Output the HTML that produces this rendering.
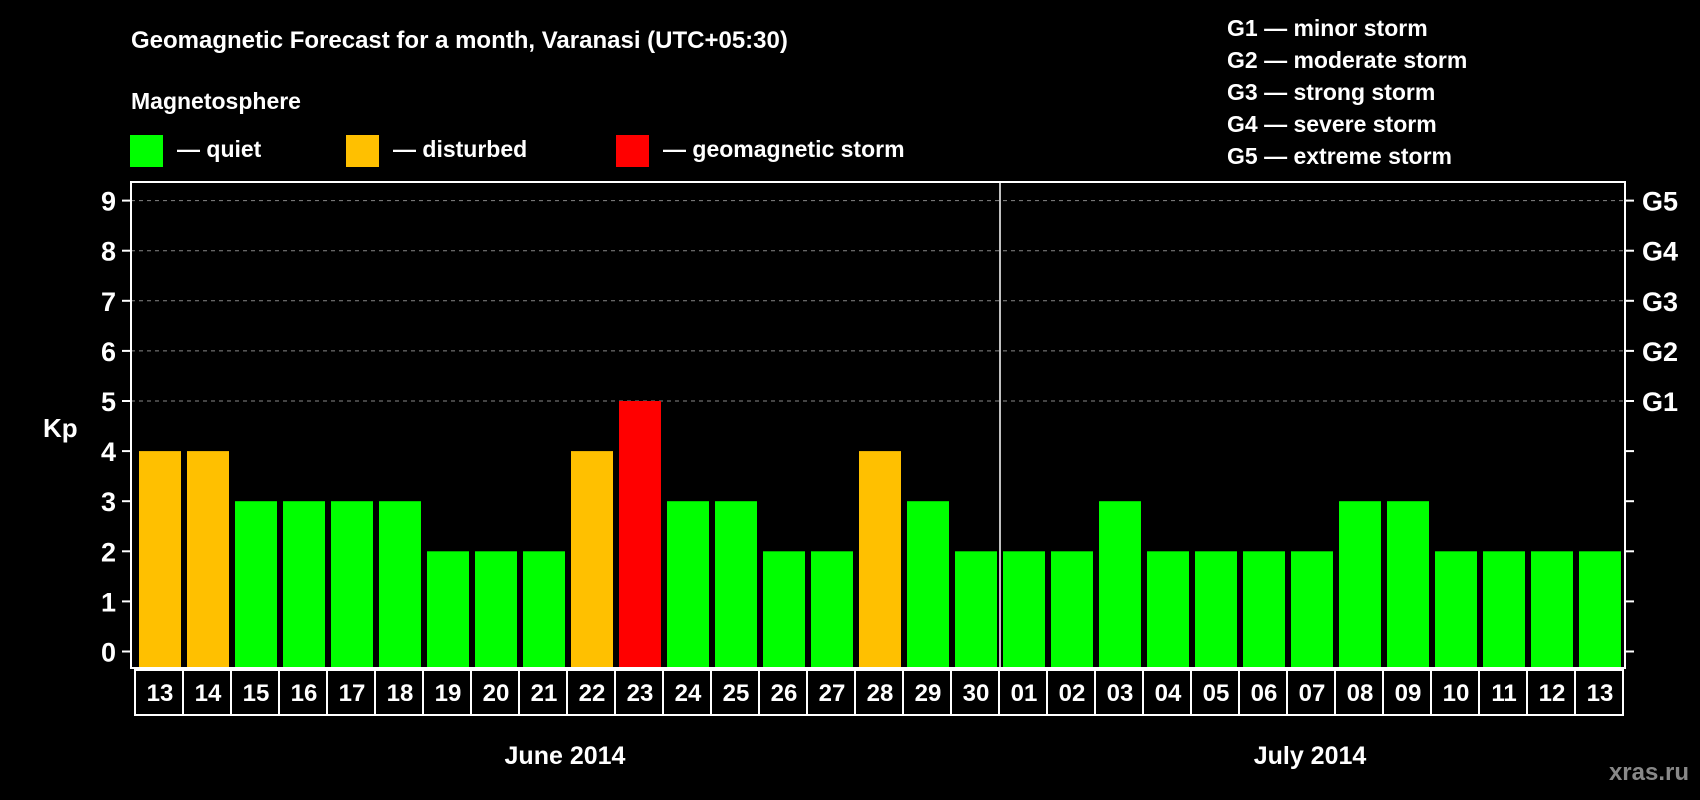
<!DOCTYPE html>
<html><head><meta charset="utf-8"><style>
body{margin:0;background:#000;width:1700px;height:800px;overflow:hidden}
svg{display:block;font-family:"Liberation Sans",Arial,sans-serif;font-weight:bold}
</style></head><body>
<svg id="c" width="1700" height="800" xmlns="http://www.w3.org/2000/svg">
<rect width="1700" height="800" fill="#000"/>
<text x="131" y="48" fill="#fff" font-size="24">Geomagnetic Forecast for a month, Varanasi (UTC+05:30)</text>
<text x="131" y="109" fill="#fff" font-size="23">Magnetosphere</text>
<g><rect x="130" y="135" width="33" height="32" fill="#00ff00"/><text x="177" y="157" fill="#fff" font-size="23">— quiet</text></g>
<g><rect x="346" y="135" width="33" height="32" fill="#ffc000"/><text x="393" y="157" fill="#fff" font-size="23">— disturbed</text></g>
<g><rect x="616" y="135" width="33" height="32" fill="#ff0000"/><text x="663" y="157" fill="#fff" font-size="23">— geomagnetic storm</text></g>
<g fill="#fff" font-size="23">
<text x="1227" y="36">G1 — minor storm</text>
<text x="1227" y="68">G2 — moderate storm</text>
<text x="1227" y="100">G3 — strong storm</text>
<text x="1227" y="132">G4 — severe storm</text>
<text x="1227" y="164">G5 — extreme storm</text>
</g>
<text x="43" y="437" fill="#fff" font-size="26">Kp</text>
<g id="grid"></g><g id="bars"></g><g id="axes"></g>
<text x="565" y="764" fill="#fff" font-size="25" text-anchor="middle">June 2014</text>
<text x="1310" y="764" fill="#fff" font-size="25" text-anchor="middle">July 2014</text>
<text x="1689" y="780" fill="#888" font-size="24" text-anchor="end">xras.ru</text>
</svg>
<script>
const days=["13","14","15","16","17","18","19","20","21","22","23","24","25","26","27","28","29","30","01","02","03","04","05","06","07","08","09","10","11","12","13"];
const kp=[4,4,3,3,3,3,2,2,2,4,5,3,3,2,2,4,3,2,2,2,3,2,2,2,2,3,3,2,2,2,2];
const yTicks=[0,1,2,3,4,5,6,7,8,9];
const gLabels=["","","","","","G1","G2","G3","G4","G5"];
const NS="http://www.w3.org/2000/svg";
const L=131,R=1625,T=182,B=668,X0=139,STEP=48,BW=42;
const y=v=>651.5-v*50.1;
const x=i=>X0+i*STEP;
function mk(tag,attrs,parent,txt){const e=document.createElementNS(NS,tag);for(const k in attrs)e.setAttribute(k,attrs[k]);if(txt!==undefined)e.textContent=txt;parent.appendChild(e);return e;}
const grid=document.getElementById('grid'),bars=document.getElementById('bars'),axes=document.getElementById('axes');
yTicks.forEach((v,i)=>{
  if(v>=5){const g=mk('line',{x1:L,x2:R,y1:y(v),y2:y(v),stroke:'#888','stroke-width':1,'stroke-dasharray':'4,4'},grid);
  
  }
  const t1=mk('line',{x1:122,x2:L,y1:y(v),y2:y(v),stroke:'#fff','stroke-width':2},axes);
  
  
  const t2=mk('line',{x1:R,x2:1634,y1:y(v),y2:y(v),stroke:'#fff','stroke-width':2},axes);
  
  
  const lb=mk('text',{x:116,y:y(v)+10,fill:'#fff','font-size':27,'text-anchor':'end'},axes,String(v));
  
  
  if(gLabels[i]){const gl=mk('text',{x:1642,y:y(v)+10,fill:'#fff','font-size':27},axes,gLabels[i]);
  
  }
});
kp.forEach((v,i)=>{
  const col=v>=5?'#ff0000':(v>=4?'#ffc000':'#00ff00');
  const b=mk('rect',{x:x(i),y:y(v),width:BW,height:y(-0.35)-y(v),fill:col},bars);
  
  
  const bx=mk('rect',{x:x(i)-4,y:670,width:STEP,height:45,fill:'none',stroke:'#fff','stroke-width':2},axes);
  
  
  const t=mk('text',{x:x(i)+BW/2,y:701,fill:'#fff','font-size':24,'text-anchor':'middle'},axes,days[i]);
  
  
});
const fr=mk('rect',{x:L,y:T,width:R-L,height:B-T,fill:'none',stroke:'#fff','stroke-width':2},axes);


const dv=mk('line',{x1:x(18)-3,x2:x(18)-3,y1:T,y2:B,stroke:'#fff','stroke-width':1.5},axes);


</script>
</body></html>
